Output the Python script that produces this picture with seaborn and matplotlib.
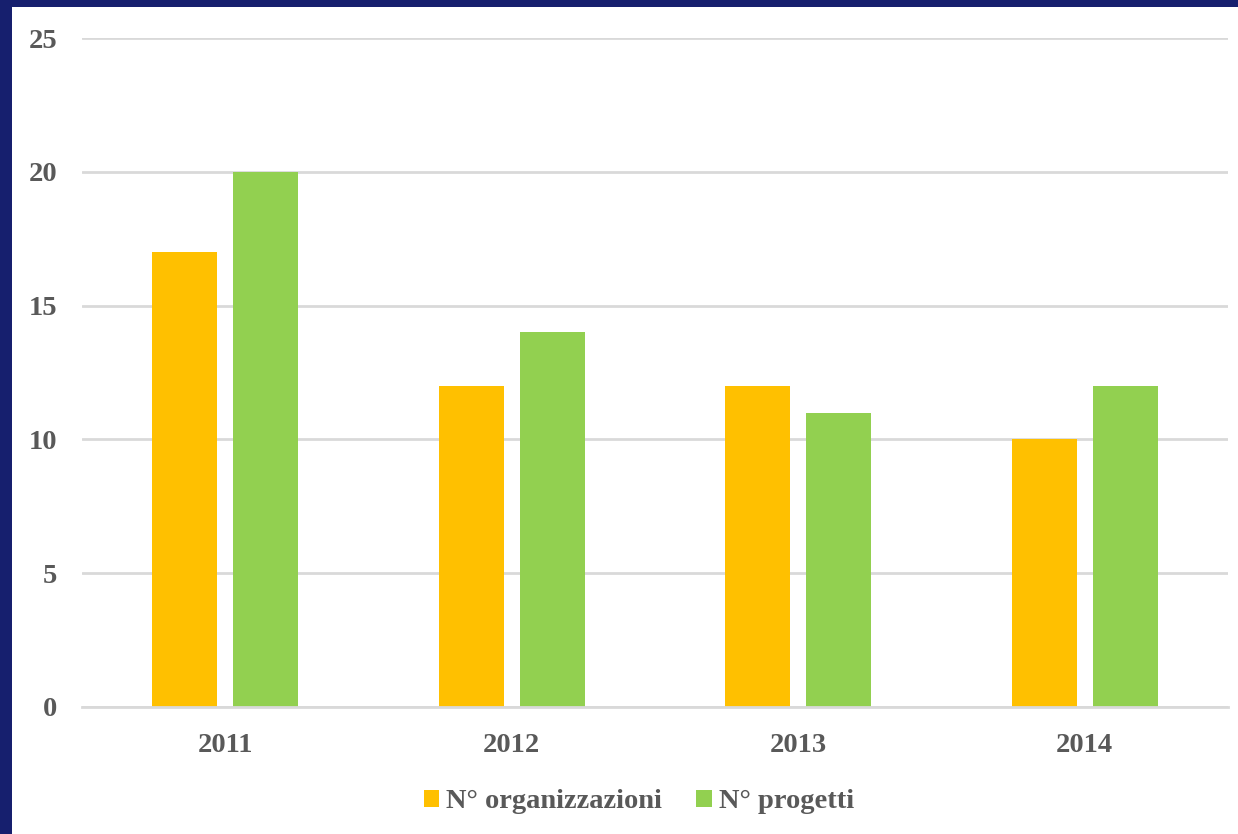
import pandas as pd
import matplotlib.pyplot as plt
import seaborn as sns
from matplotlib.patches import Rectangle

# Data
years = ['2011', '2012', '2013', '2014']
organizzazioni = [17, 12, 12, 10]
progetti = [20, 14, 11, 12]
series_names = ['N° organizzazioni', 'N° progetti']

df = pd.DataFrame({
    'Anno': years * 2,
    'Valore': organizzazioni + progetti,
    'Serie': [series_names[0]] * 4 + [series_names[1]] * 4,
})

sns.set_style('white')
plt.rcParams['font.family'] = ['Liberation Serif', 'DejaVu Serif']
plt.rcParams['font.weight'] = 'bold'

text_color = '#595959'
grid_color = '#D9D9D9'

fig = plt.figure(figsize=(12.38, 8.34), dpi=100, facecolor='#161F6E')
# white panel inside the navy frame (frame only on top and left)
fig.patches.append(Rectangle((12 / 1238, 0), 1 - 12 / 1238, 1 - 7 / 834,
                             transform=fig.transFigure, facecolor='white',
                             edgecolor='none', zorder=-10))

ax = fig.add_axes([82 / 1238, 1 - 707 / 834, (1228 - 82) / 1238,
                   (707 - 38) / 834])
ax.set_facecolor('white')
sns.barplot(data=df, x='Anno', y='Valore', hue='Serie',
            palette=['#FFC000', '#92D050'], width=0.565, gap=0.2,
            saturation=1, linewidth=0, ax=ax, legend=True)

ax.set_ylim(0, 25)
ax.set_xlim(-0.5, 3.5)
ax.set_yticks([0, 5, 10, 15, 20, 25])
ax.yaxis.grid(True, color=grid_color, linewidth=2)
ax.set_axisbelow(True)
for side in ['top', 'right', 'left']:
    ax.spines[side].set_visible(False)
ax.spines['bottom'].set_color(grid_color)
ax.spines['bottom'].set_linewidth(2)
ax.set_xlabel('')
ax.set_ylabel('')
ax.tick_params(axis='both', length=0, labelsize=20.5, labelcolor=text_color)
ax.tick_params(axis='y', pad=18)
ax.tick_params(axis='x', pad=19)
for lbl in ax.get_xticklabels() + ax.get_yticklabels():
    lbl.set_fontweight('bold')

ax.legend(loc='upper center', bbox_to_anchor=(0.486, -0.085), ncol=2,
          frameon=False, labelcolor=text_color,
          handlelength=0.55, handleheight=0.55, handletextpad=0.25,
          columnspacing=1.2, prop={'weight': 'bold', 'size': 20.5})

fig.savefig('out.png', dpi=100, facecolor=fig.get_facecolor())
